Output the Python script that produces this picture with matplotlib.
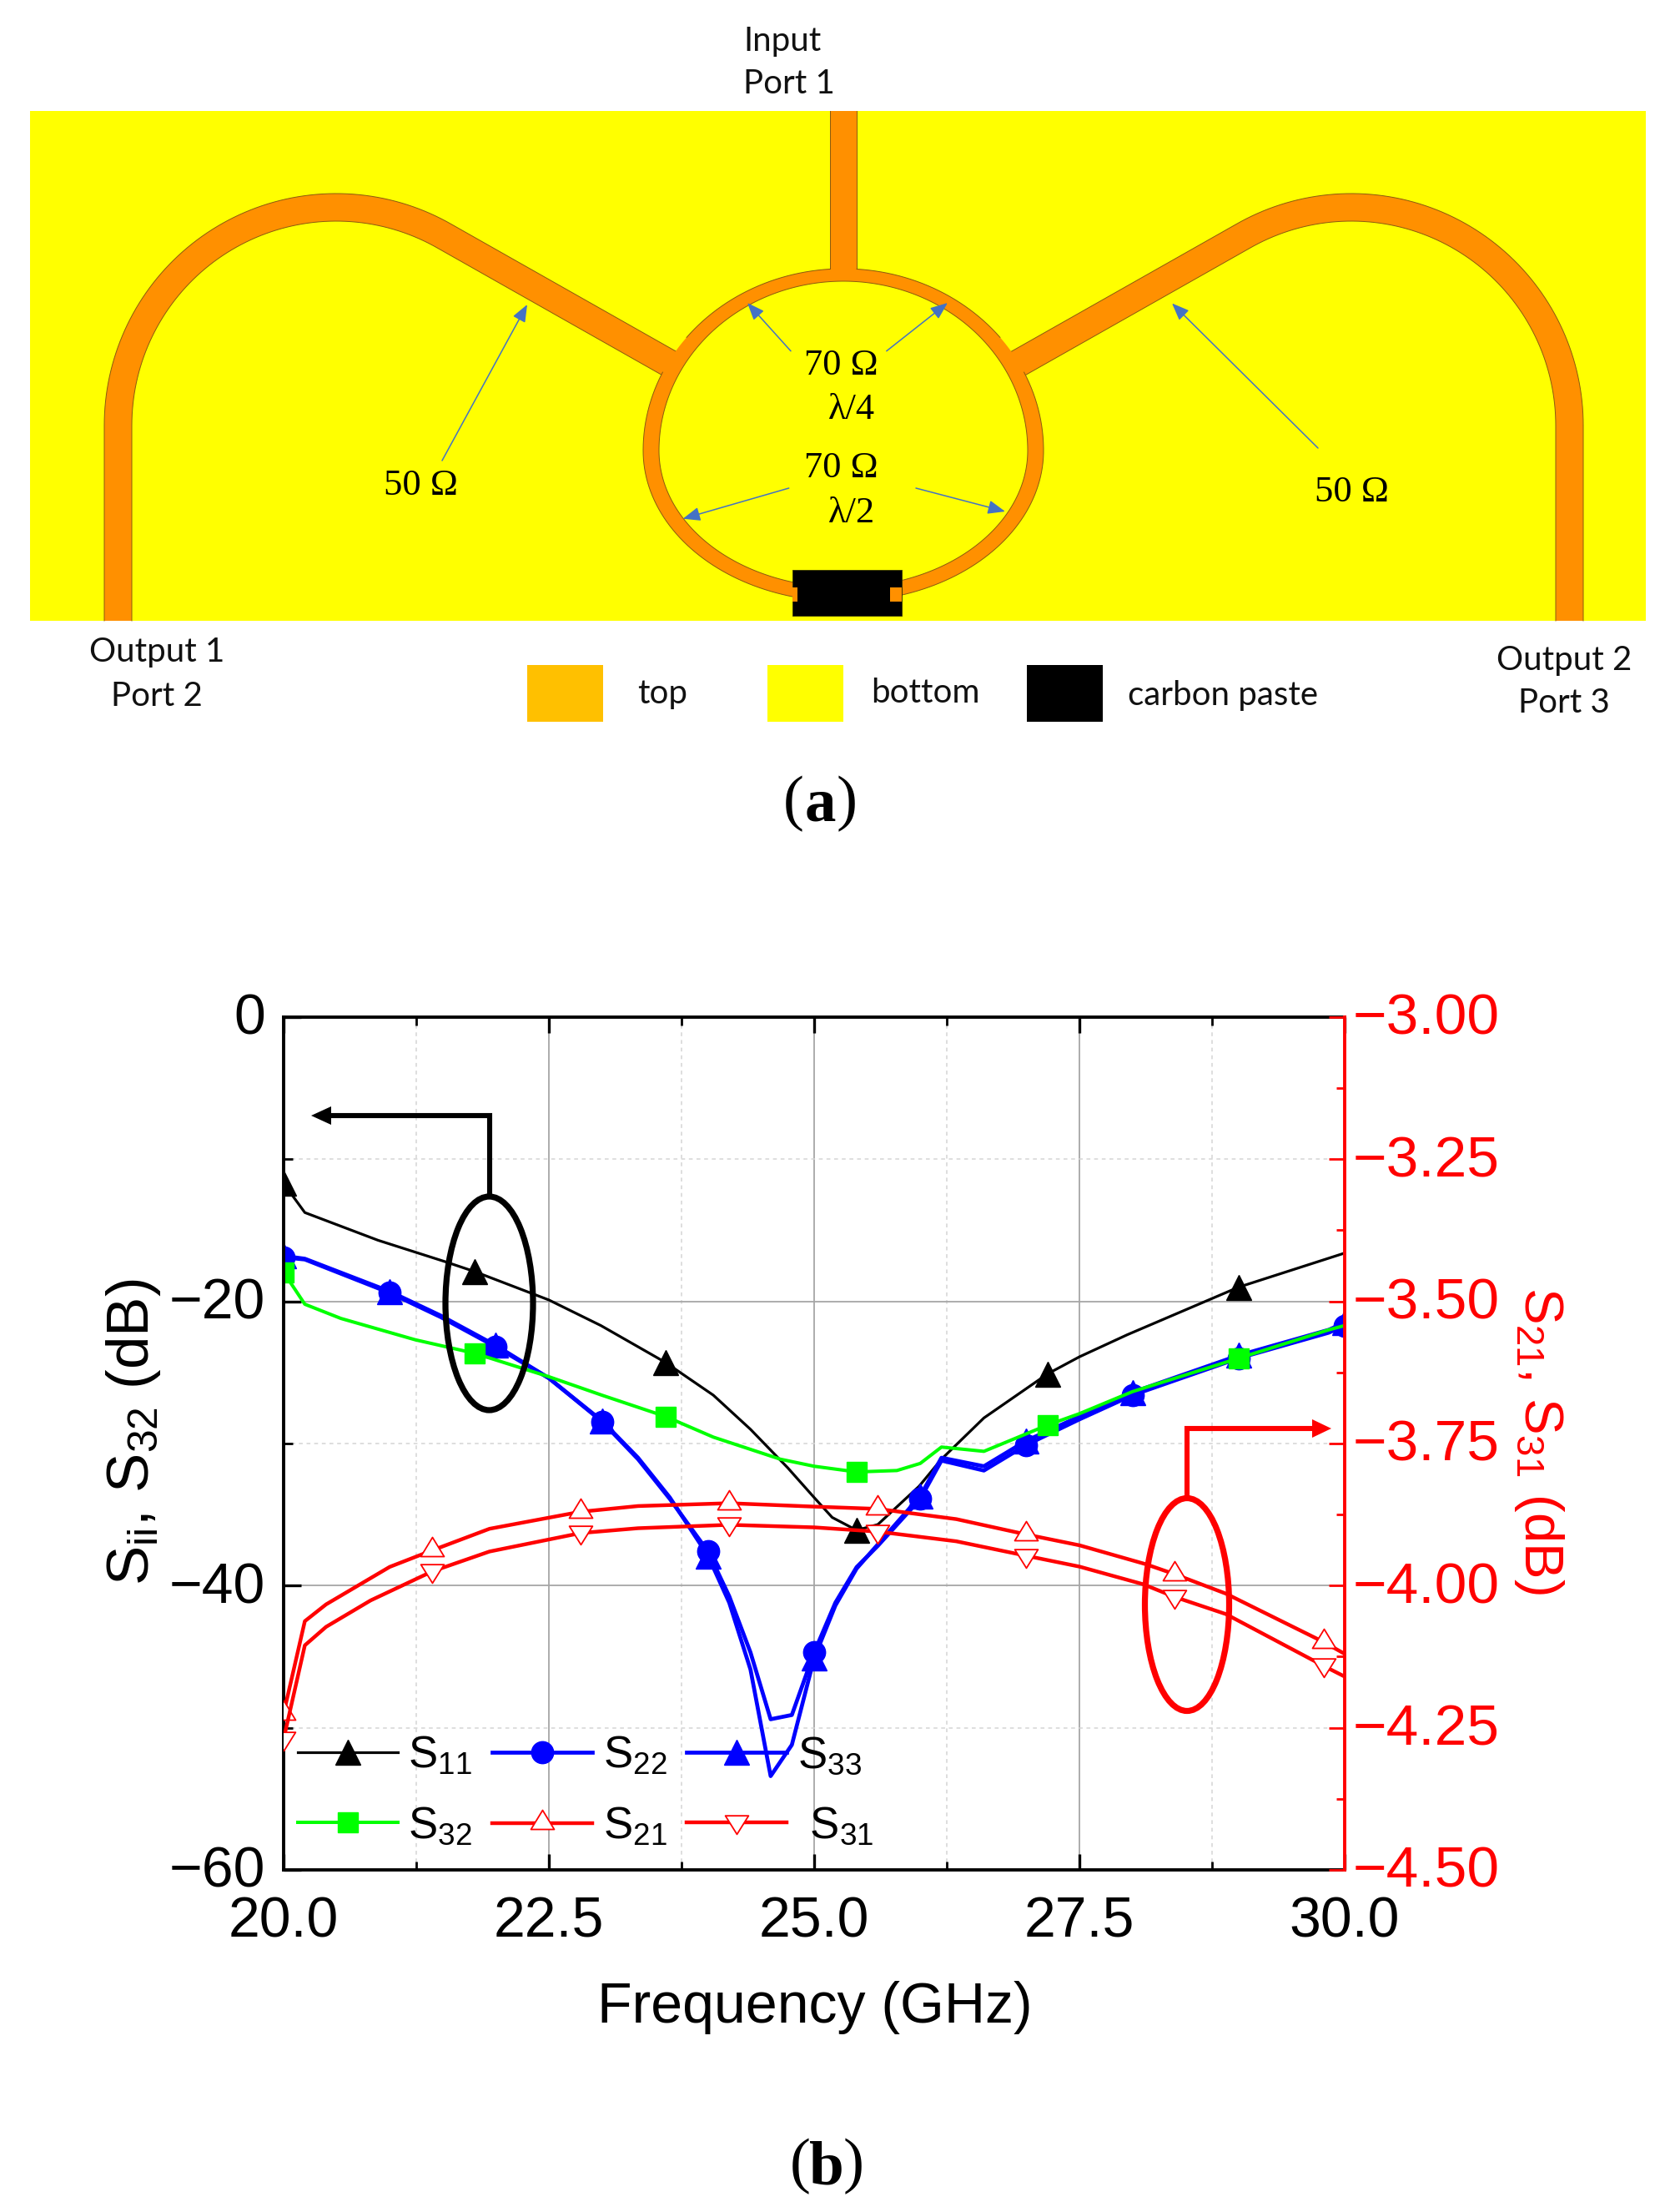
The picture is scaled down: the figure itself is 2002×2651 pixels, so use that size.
import numpy as np
import matplotlib
matplotlib.use('Agg')
import matplotlib.pyplot as plt
from matplotlib.lines import Line2D
from matplotlib.patches import Ellipse, Polygon, Rectangle
from matplotlib.path import Path
from matplotlib.ticker import FixedLocator
from matplotlib.transforms import ScaledTranslation

# ------------------------- chart data -------------------------
s11_f = [20, 20.2, 20.89, 21.52, 21.8, 22.5, 22.99, 23.6, 24.05, 24.4, 24.75, 25, 25.17, 25.4, 25.6, 25.99, 26.2, 26.6, 27.2, 27.5, 27.95, 29, 30]
s11_db = [-11.7, -13.75, -15.7, -17.2, -17.9, -19.9, -21.7, -24.3, -26.6, -29, -31.7, -33.8, -35.2, -36.1, -35.7, -33, -31.1, -28.2, -25.1, -23.9, -22.35, -19, -16.6]
s11_marks = [20, 21.8, 23.6, 25.4, 27.2, 29]

s22_f = [20, 20.2, 21, 21.48, 22, 22.5, 23, 23.34, 23.64, 24, 24.2, 24.4, 24.59, 24.79, 25, 25.2, 25.4, 25.6, 26, 26.2, 26.6, 27, 27.5, 28, 29, 29.85, 30]
s22_db = [-16.9, -17.05, -19.4, -21.1, -23.2, -25.4, -28.45, -31.1, -33.9, -37.6, -40.75, -44.7, -49.4, -49.1, -44.7, -41.2, -38.7, -37.2, -33.9, -31.2, -31.9, -30.1, -28.3, -26.6, -24, -22.2, -21.7]
s22_marks = [20, 21, 22, 23, 24, 25, 26, 27, 28, 29, 30]

s33_f = [20, 20.2, 21, 21.48, 22, 22.5, 23, 23.34, 23.64, 24, 24.2, 24.4, 24.59, 24.79, 25, 25.2, 25.4, 25.6, 26, 26.2, 26.6, 27, 27.5, 28, 29, 29.85, 30]
s33_db = [-16.8, -17.0, -19.3, -21.0, -23.1, -25.4, -28.4, -31.0, -33.8, -37.9, -41.2, -45.9, -53.4, -51.2, -45.1, -41.4, -38.8, -37.1, -33.7, -31.0, -31.6, -29.8, -28.1, -26.4, -23.8, -22.0, -21.5]
s33_marks = [20, 21, 22, 23, 24, 25, 26, 27, 28, 29, 30]

s32_f = [20, 20.2, 20.54, 21.24, 21.8, 22.5, 23, 23.6, 24.05, 24.68, 25, 25.4, 25.78, 26, 26.2, 26.6, 27.2, 27.5, 28, 29, 29.85, 30]
s32_db = [-17.95, -20.2, -21.2, -22.7, -23.65, -25.3, -26.6, -28.1, -29.55, -31.1, -31.6, -32, -31.9, -31.4, -30.25, -30.55, -28.7, -27.9, -26.35, -24, -22, -21.7]
s32_marks = [20, 21.8, 23.6, 25.4, 27.2, 29]

s21_f = [20, 20.2, 20.4, 21, 21.4, 21.94, 22.8, 23.34, 24.2, 25, 25.6, 26.34, 27, 27.5, 28.13, 28.4, 28.88, 29.8, 30]
s21_db = [-4.225, -4.0625, -4.033, -3.967, -3.938, -3.90, -3.87, -3.86, -3.855, -3.861, -3.865, -3.883, -3.91, -3.929, -3.9625, -3.98, -4.014, -4.099, -4.12]
s21_marks = [20, 21.4, 22.8, 24.2, 25.6, 27, 28.4, 29.8]

s31_f = [20, 20.2, 20.4, 20.82, 21.4, 21.94, 22.8, 23.34, 24.2, 25, 25.6, 26.34, 27, 27.5, 28.1, 28.4, 28.88, 29.8, 30]
s31_db = [-4.27, -4.105, -4.0725, -4.026, -3.975, -3.94, -3.9075, -3.899, -3.893, -3.8975, -3.905, -3.922, -3.9475, -3.9665, -3.9975, -4.02, -4.05, -4.141, -4.16]
s31_marks = [20, 21.4, 22.8, 24.2, 25.6, 27, 28.4, 29.8]

x_ticks = [20.0, 22.5, 25.0, 27.5, 30.0]
x_tick_labels = ['20.0', '22.5', '25.0', '27.5', '30.0']
left_ticks = [0, -20, -40, -60]
left_tick_labels = ['0', '\u221220', '\u221240', '\u221260']
right_ticks = [-3.0, -3.25, -3.5, -3.75, -4.0, -4.25, -4.5]
right_tick_labels = ['\u22123.00', '\u22123.25', '\u22123.50', '\u22123.75', '\u22124.00', '\u22124.25', '\u22124.50']

blue_arrows = [((530, 552), (632, 365)), ((1580, 537), (1405, 363.5)),
               ((948, 420.7), (896, 363)), ((1062.8, 420.7), (1136, 363)),
               ((945.7, 585), (818.6, 621.7)), ((1098, 585), (1205, 613))]

W, H = 2002, 2651
plt.rcParams['font.family'] = ['Liberation Sans', 'DejaVu Sans']
plt.rcParams['mathtext.default'] = 'regular'

fig = plt.figure(figsize=(W / 100, H / 100), dpi=100, facecolor='white')


def ring_curve(rx, ry_top, ry_bot, cx=1011, cy=540, n=2.0):
    """Egg-shaped loop of the power divider, starting and ending at the bottom."""
    t = np.linspace(np.pi * 0.52, np.pi * 2.48, 600)
    c, s = np.cos(t), np.sin(t)
    x = cx + rx * np.sign(c) * np.abs(c) ** (2 / n)
    y = cy + np.where(s > 0, ry_bot, ry_top) * np.sign(s) * np.abs(s) ** (2 / n)
    return np.column_stack([x, y])


def arm_curve(cx, cy, rad, sign, foot_y, end_x):
    """Output line: straight foot, circular bend, then a straight run into the ring."""
    ang = np.radians(np.linspace(0, 120, 80))
    bx = cx - sign * np.cos(ang) * rad
    by = cy - np.sin(ang) * rad
    endy = by[-1] + abs(end_x - bx[-1]) * np.tan(np.radians(29.5))
    return np.column_stack([np.r_[bx[0], bx, end_x], np.r_[foot_y, by, endy]])


# ------------------------- lower panel: chart -------------------------
ax = fig.add_axes([340 / W, 1 - 2241 / H, (1612 - 340) / W, (2241 - 1219) / H])
ax.set_xlim(20, 30)
ax.set_ylim(-60, 0)
ax2 = ax.twinx()
ax2.set_ylim(-4.5, -3.0)

ax.xaxis.set_major_locator(FixedLocator(x_ticks))
ax.xaxis.set_minor_locator(FixedLocator([21.25, 23.75, 26.25, 28.75]))
ax.set_xticklabels(x_tick_labels, fontsize=49)
ax.yaxis.set_major_locator(FixedLocator(left_ticks))
ax.yaxis.set_minor_locator(FixedLocator([-10, -30, -50]))
ax.set_yticklabels(left_tick_labels, fontsize=49)
ax2.yaxis.set_major_locator(FixedLocator(right_ticks))
ax2.yaxis.set_minor_locator(FixedLocator([-3.125, -3.375, -3.625, -3.875, -4.125, -4.375]))
ax2.set_yticklabels(right_tick_labels, fontsize=50, color='#ff0000')

ax.tick_params(axis='x', which='major', direction='in', length=14, width=2.4, top=True, pad=22)
ax.tick_params(axis='x', which='minor', direction='in', length=7, width=2, top=True)
ax.tick_params(axis='y', which='major', direction='in', length=15, width=2.4, right=False, pad=16)
ax.tick_params(axis='y', which='minor', direction='in', length=8, width=2, right=False)
ax2.tick_params(axis='y', which='major', direction='in', length=14, width=2, color='#ff0000', pad=7)
ax2.tick_params(axis='y', which='minor', direction='in', length=7, width=2, color='#ff0000')

lift = ScaledTranslation(0, 3 / 72, fig.dpi_scale_trans)
for lab in list(ax.get_yticklabels()) + list(ax2.get_yticklabels()):
    lab.set_transform(lab.get_transform() + lift)

ax.grid(True, which='major', color='#a6a6a6', lw=1.3, ls='-')
ax.grid(True, which='minor', color='#d4d4d4', lw=1.1, ls=(0, (3, 3)))
ax.set_axisbelow(True)
for side in ['left', 'top', 'bottom']:
    ax.spines[side].set_linewidth(2.8)
    ax2.spines[side].set_visible(False)
ax.spines['right'].set_visible(False)
ax2.spines['right'].set_color('#ff0000')
ax2.spines['right'].set_linewidth(2.8)

ax.set_xlabel('Frequency (GHz)', fontsize=49)
ax.xaxis.set_label_coords((977 - 340) / 1272, -(2406 - 2241) / 1022)
ax.xaxis.label.set_verticalalignment('center')
ax.set_ylabel('S$_{ii}$, S$_{32}$ (dB)', fontsize=51)
ax.yaxis.set_label_coords((160 - 340) / 1272, (2241 - 1716) / 1022)
ax.yaxis.label.set_verticalalignment('center')
ax2.set_ylabel('S$_{21}$, S$_{31}$ (dB)', fontsize=47, color='#ff0000', rotation=270)
ax2.yaxis.set_label_coords((1845 - 340) / 1272, (2241 - 1726) / 1022)
ax2.yaxis.label.set_verticalalignment('center')


def draw(axis, f, v, marks, **style):
    every = [f.index(m) for m in marks]
    return axis.plot(f, v, markevery=every, **style)[0]


UP_TRI = Path([(-0.875, -0.44), (0.875, -0.44), (0, 1), (-0.875, -0.44)], closed=True)
DOWN_TRI = Path([(-1, 0.6), (1, 0.6), (0, -1), (-1, 0.6)], closed=True)
blue_tri = dict(color='#0000ff', lw=3.4, marker='^', ms=21)
blue_dot = dict(color='#0000ff', lw=3.4, marker='o', ms=19)
black_tri = dict(color='black', lw=2.3, marker='^', ms=21)
green_sq = dict(color='#00ff00', lw=2.9, marker='s', ms=17)
red_up = dict(color='#ff0000', lw=3.2, marker=UP_TRI, ms=23, mfc='white', mec='#ff0000', mew=1.3)
red_dn = dict(color='#ff0000', lw=3.2, marker=DOWN_TRI, ms=20, mfc='white', mec='#ff0000', mew=1.3)

draw(ax, s11_f, s11_db, s11_marks, **black_tri)
draw(ax, s33_f, s33_db, s33_marks, **blue_tri)
draw(ax, s22_f, s22_db, s22_marks, **blue_dot)
draw(ax, s32_f, s32_db, s32_marks, **green_sq)
draw(ax2, s21_f, s21_db, s21_marks, **red_up)
draw(ax2, s31_f, s31_db, s31_marks, **red_dn)

# ------------------------- pixel overlay -------------------------
ov = fig.add_axes([0, 0, 1, 1], zorder=5)
ov.set_xlim(0, W)
ov.set_ylim(H, 0)
ov.axis('off')
ov.patch.set_alpha(0)

handles = [Line2D([], [], **black_tri), Line2D([], [], **green_sq),
           Line2D([], [], **blue_dot), Line2D([], [], **red_up),
           Line2D([], [], **blue_tri), Line2D([], [], **red_dn)]
labels = ['S$_{11}$', 'S$_{32}$', 'S$_{22}$', 'S$_{21}$', 'S$_{33}$', ' S$_{31}$']
ax2.legend(handles, labels, ncol=3, loc='upper left', bbox_to_anchor=(357, 2079),
           bbox_transform=ov.transData, frameon=False, fontsize=38, borderpad=0, borderaxespad=0,
           numpoints=1, handlelength=2.27, handletextpad=0.24, columnspacing=0.45, labelspacing=0.65)

# annotations on the chart
ov.add_patch(Ellipse((586.5, 1562), 105, 256, fill=False, ec='black', lw=5.2))
ov.plot([586.5, 586.5, 395], [1433, 1337, 1337], color='black', lw=4.4, solid_joinstyle='miter')
ov.add_patch(Polygon([(373, 1337), (397, 1326), (397, 1348)], fc='black', ec='none'))
ov.add_patch(Ellipse((1423, 1923), 101, 255, fill=False, ec='#ff0000', lw=5.2))
ov.plot([1423, 1423, 1574], [1795, 1712, 1712], color='#ff0000', lw=4.4, solid_joinstyle='miter')
ov.add_patch(Polygon([(1596, 1712), (1573, 1701), (1573, 1723)], fc='#ff0000', ec='none'))

# ------------------------- upper panel: layout -------------------------
ORANGE = '#ff9000'
EDGE = '#8a5a10'
YELLOW = '#ffff00'
ov.add_patch(Rectangle((36, 133), 1937, 611, fc=YELLOW, ec='none', zorder=0.5))

# output lines: outer and inner edges share the bend centre
for cx, sgn, end_outer, end_inner in [(403, 1, 830, 815), (1620, -1, 1195, 1210)]:
    a = arm_curve(cx, 510, 278, sgn, 744, end_outer)
    b = arm_curve(cx, 510, 245, sgn, 744, end_inner)
    ov.add_patch(Polygon(np.vstack([a, b[::-1]]), fc=ORANGE, ec='none', zorder=1.0))
    ov.plot(a[:, 0], a[:, 1], color=EDGE, lw=0.7, zorder=1.1)
    ov.plot(b[:, 0], b[:, 1], color=EDGE, lw=0.7, zorder=1.1)

# ring
outer = ring_curve(240, 218, 181)
inner = ring_curve(221, 203, 164)
ov.add_patch(Polygon(outer, fc=ORANGE, ec='none', zorder=1.2))
ov.add_patch(Rectangle((994.7, 133), 32.3, 195, fc=ORANGE, ec='none', zorder=1.2))
ov.plot([994.7, 994.7], [133, 322], color=EDGE, lw=0.7, zorder=1.3)
ov.plot([1027, 1027], [133, 322], color=EDGE, lw=0.7, zorder=1.3)
hide = ((outer[:, 1] > 405) & (outer[:, 1] < 446)) | ((np.abs(outer[:, 0] - 1011) < 16) & (outer[:, 1] < 540))
edge_xy = outer.copy()
edge_xy[hide] = np.nan
ov.plot(edge_xy[:, 0], edge_xy[:, 1], color=EDGE, lw=0.7, zorder=1.3)
ov.add_patch(Polygon(inner, fc=YELLOW, ec=EDGE, lw=0.7, zorder=1.4))

ov.add_patch(Rectangle((949.5, 682.7), 131.3, 55.6, fc='black', ec='#333300', lw=0.6, zorder=1.5))
ov.add_patch(Rectangle((949.5, 704), 6.1, 16.7, fc=ORANGE, ec='none', zorder=1.6))
ov.add_patch(Rectangle((1067.4, 704), 13.4, 16.7, fc=ORANGE, ec='none', zorder=1.6))

for start, end in blue_arrows:
    ov.annotate('', xy=end, xytext=start,
                arrowprops=dict(arrowstyle='-|>,head_length=0.7,head_width=0.28', color='#4472c4', lw=1.1,
                                shrinkA=0, shrinkB=0, mutation_scale=18))

CAL = ['Lato', 'DejaVu Sans']
for txt, x, y, ha in [('Input', 891, 49, 'left'), ('Port 1', 891, 101, 'left'),
                      ('Output 1', 188, 782, 'center'), ('Port 2', 188, 834, 'center'),
                      ('Output 2', 1875, 791, 'center'), ('Port 3', 1875, 842, 'center'),
                      ('top', 764, 831, 'left'), ('bottom', 1044, 831, 'left'), ('carbon paste', 1352, 834, 'left')]:
    ov.text(x, y, txt, family=CAL, fontsize=29, ha=ha, va='center', color='#111111')

SERIF = ['Liberation Serif', 'DejaVu Serif']
for txt, x, y in [('70 \u03a9', 964, 438), ('\u03bb/4', 993, 491), ('70 \u03a9', 964, 561), ('\u03bb/2', 993, 615),
                  ('50 \u03a9', 460, 582), ('50 \u03a9', 1576, 590)]:
    ov.text(x, y, txt, family=SERIF, fontsize=32, ha='left', va='center', color='black')

for x, col in [(632, '#ffc000'), (919.5, YELLOW), (1231, 'black')]:
    ov.add_patch(Rectangle((x, 797), 91, 68, fc=col, ec='none'))

for letter, cx, cy in [('a', 983, 963), ('b', 991, 2596)]:
    ov.text(cx - 32, cy, '(', family=SERIF, fontsize=54, ha='center', va='center')
    ov.text(cx, cy + 3, letter, family=SERIF, fontsize=54, weight='bold', ha='center', va='center')
    ov.text(cx + 32, cy, ')', family=SERIF, fontsize=54, ha='center', va='center')

fig.savefig('out.png', dpi=100, facecolor='white')
